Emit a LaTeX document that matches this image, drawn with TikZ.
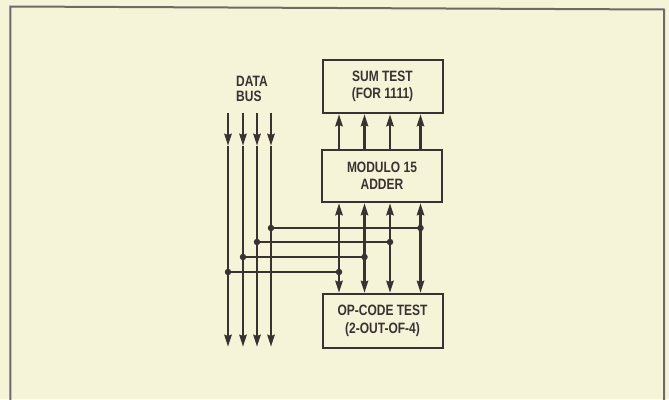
\documentclass[tikz,border=0pt]{standalone}
\usepackage{fontspec}
\setmainfont[FakeStretch=0.8]{Liberation Sans}
\usetikzlibrary{arrows.meta}
\definecolor{paper}{HTML}{F6F4D8}
\definecolor{ink}{HTML}{3A3232}
\definecolor{framec}{HTML}{716868}
\tikzset{
  blk/.style={draw=ink, line width=2pt, minimum width=120pt, inner sep=0pt,
    align=center, font=\bfseries\fontsize{15}{17.5}\selectfont, text=ink},
  wire/.style={draw=ink, line width=2.8pt},
  tip/.style={-{Stealth[length=12pt,width=7pt,inset=1pt]}},
  tips/.style={{Stealth[length=12pt,width=7pt,inset=1pt]}-{Stealth[length=12pt,width=7pt,inset=1pt]}},
  jdot/.style={fill=ink, circle, inner sep=0pt, minimum size=6.5pt},
  lbl/.style={font=\bfseries\fontsize{15}{15}\selectfont, text=ink, align=left, inner sep=0pt}
}
\begin{document}
\begin{tikzpicture}[x=1pt,y=-1pt]
\useasboundingbox (0,0) rectangle (669,399);
\fill[paper] (0,0) rectangle (669,399);
\draw[framec, line width=2pt] (10.3,405) -- (10.3,6.5) -- (664,9.5) -- (664,405);

% boxes
\node[blk, minimum height=53pt] (sum) at (382.5,86.5) {SUM TEST\\(FOR 1111)};
\node[blk, minimum height=52pt] (add) at (382,176) {MODULO 15\\ADDER};
\node[blk, minimum height=54pt] (opc) at (382.5,321) {OP-CODE TEST\\(2-OUT-OF-4)};

\node[lbl, anchor=north west] (dbus) at (236,76) {DATA\\BUS};

% bus coordinates
\foreach \i/\x in {1/228,2/243,3/257,4/271}{
  \coordinate (bt\i) at (\x,113);
  \coordinate (bm\i) at (\x,146);
  \coordinate (bb\i) at (\x,347);
}
% connector x positions
\foreach \i/\x in {1/339,2/364.5,3/390,4/420.5}{
  \coordinate (c\i) at (\x,0);
}
\foreach \i in {1,...,4}{
  \draw[wire, tip] (add.north -| c\i) -- (sum.south -| c\i);
  \draw[wire, tips] (add.south -| c\i) -- (opc.north -| c\i);
  \draw[wire, tip] (bt\i) -- (bm\i);
  \draw[wire, tip] (bm\i) -- (bb\i);
}
% horizontal taps
\foreach \b/\c/\y in {4/4/228,3/3/242,2/2/257,1/1/272}{
  \coordinate (hl\b) at (0,\y);
  \draw[wire] (bt\b |- hl\b) node[jdot] (jl\b) {} -- (c\c |- hl\b) node[jdot] (jr\b) {};
}
\end{tikzpicture}
\end{document}
